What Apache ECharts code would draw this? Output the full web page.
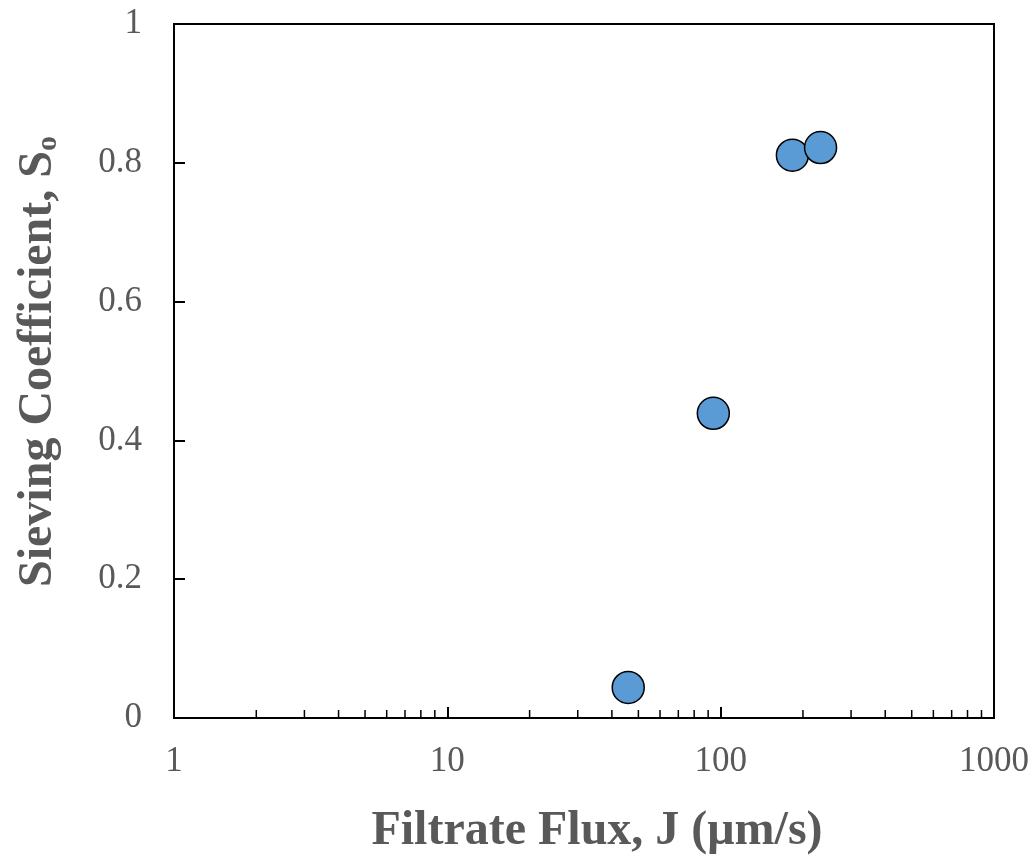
<!DOCTYPE html>
<html>
<head>
<meta charset="utf-8">
<script src="https://cdn.jsdelivr.net/npm/echarts@6/dist/echarts.min.js"></script>
<style>html,body{margin:0;padding:0;background:#fff;}#c{width:1034px;height:859px;}</style>
</head>
<body>
<div id="c"></div>
<script>
var fluxValues = [45.9, 94, 183, 232];
var sievingValues = [0.044, 0.439, 0.811, 0.822];
var minorTickValues = [2,3,4,5,6,7,8,9,20,30,40,50,60,70,80,90,200,300,400,500,600,700,800,900];
var xTitle = 'Filtrate Flux, J (\u03bcm/s)';

var chart = echarts.init(document.getElementById('c'));
var labelFont = {fontFamily: 'Liberation Serif', fontSize: 35, color: '#595959'};
chart.setOption({
  animation: false,
  grid: {left: 174, top: 24, right: 40, bottom: 141, containLabel: false, outerBoundsMode: 'none', show: true, borderColor: '#000', borderWidth: 2, backgroundColor: 'transparent'},
  xAxis: {
    type: 'log', logBase: 10, min: 1, max: 1000,
    axisLine: {lineStyle: {color: '#000', width: 2}},
    axisTick: {inside: true, length: 11, lineStyle: {color: '#000', width: 2}},
    axisLabel: Object.assign({margin: 26, formatter: function (v) { return String(Math.round(v)); }}, labelFont),
    splitLine: {show: false},
    minorTick: {show: false},
    name: xTitle, nameLocation: 'middle', nameGap: 90,
    nameTextStyle: {fontFamily: 'Liberation Serif', fontWeight: 'bold', fontSize: 48, color: '#595959', padding: [0, 0, 0, 26]}
  },
  yAxis: {
    type: 'value', min: 0, max: 1, interval: 0.2,
    axisLine: {show: true, lineStyle: {color: '#000', width: 2}},
    axisTick: {show: true, inside: true, length: 11, lineStyle: {color: '#000', width: 2}},
    axisLabel: Object.assign({margin: 32}, labelFont),
    splitLine: {show: false},
    name: '{t|Sieving Coefficient, S}{s|o}', nameLocation: 'middle', nameGap: 111, nameRotate: 90,
    nameTextStyle: {
      padding: [0, 0, 0, 19],
      rich: {
        t: {fontFamily: 'Liberation Serif', fontWeight: 'bold', fontSize: 48, color: '#595959'},
        s: {fontFamily: 'Liberation Serif', fontWeight: 'bold', fontSize: 30, color: '#595959', verticalAlign: 'bottom', padding: [16, 0, 0, 0]}
      }
    }
  },
  series: [
    {
      type: 'custom',
      silent: true,
      data: minorTickValues.map(function (v) { return [v, 0]; }),
      renderItem: function (params, api) {
        var p = api.coord([api.value(0), 0]);
        return {type: 'line', shape: {x1: p[0], y1: p[1], x2: p[0], y2: p[1] - 8}, style: {stroke: '#000', lineWidth: 1.5}};
      },
      z: 1
    },
    {
      type: 'scatter',
      data: fluxValues.map(function (v, i) { return [v, sievingValues[i]]; }),
      symbol: 'circle', symbolSize: 32,
      itemStyle: {color: '#5B9BD5', borderColor: '#000', borderWidth: 1.5, opacity: 1},
      z: 5
    }
  ]
});
</script>
</body>
</html>
